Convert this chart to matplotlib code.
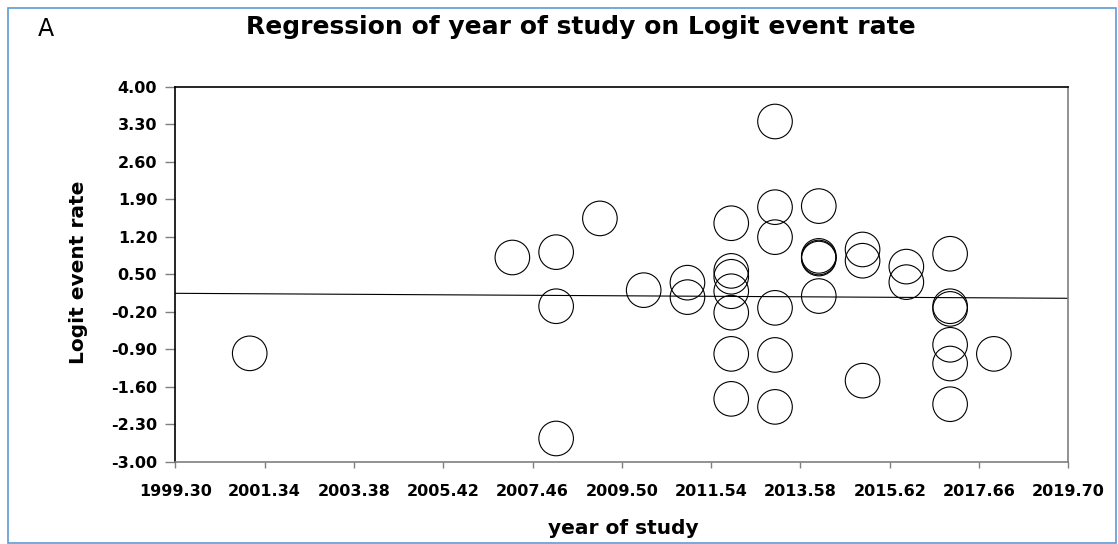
"""
plot.py

bubble plot of logit event rate by year of study, with the fitted regression line
"""

import matplotlib.pyplot as plt
from matplotlib.patches import Rectangle

# one entry per study
years = [2001,
         2007,
         2008, 2008, 2008,
         2009,
         2010,
         2011, 2011,
         2012, 2012, 2012, 2012, 2012, 2012, 2012,
         2013, 2013, 2013, 2013, 2013, 2013,
         2014, 2014, 2014, 2014, 2014,
         2015, 2015, 2015,
         2016, 2016,
         2017, 2017, 2017, 2017, 2017, 2017,
         2018]
logit_rate = [-0.98,
              0.81,
              0.91, -0.10, -2.57,
              1.54,
              0.20,
              0.34, 0.07,
              1.45, 0.56, 0.45, 0.18, -0.22, -0.99, -1.83,
              3.35, 1.75, 1.19, -0.13, -1.01, -1.98,
              1.77, 0.84, 0.81, 0.79, 0.09,
              0.96, 0.75, -1.49,
              0.64, 0.35,
              0.88, -0.10, -0.15, -0.82, -1.17, -1.93,
              -0.99]

# fitted line: logit = intercept + slope * year
reg_intercept = 9.258
reg_slope = -0.00456

x_ticks = [1999.30, 2001.34, 2003.38, 2005.42, 2007.46, 2009.50,
           2011.54, 2013.58, 2015.62, 2017.66, 2019.70]
y_ticks = [4.00, 3.30, 2.60, 1.90, 1.20, 0.50, -0.20, -0.90, -1.60, -2.30, -3.00]

plt.rcParams['font.family'] = ['DejaVu Sans']

W, H = 1118, 544
fig = plt.figure(figsize=(W / 100, H / 100), dpi=100)
ax = fig.add_axes([175.3 / W, 1 - 461.5 / H, (1068.3 - 175.3) / W, (461.5 - 86.7) / H])

ax.scatter(years, logit_rate, s=620, facecolors='none', edgecolors='black',
           linewidths=0.8, zorder=3)

x0, x1 = x_ticks[0], x_ticks[-1]
ax.plot([x0, x1], [reg_intercept + reg_slope * x0, reg_intercept + reg_slope * x1],
        color='black', linewidth=0.8, zorder=2)

ax.set_xlim(x0, x1)
ax.set_ylim(y_ticks[-1], y_ticks[0])
ax.set_xticks(x_ticks)
ax.set_xticklabels(['%.2f' % t for t in x_ticks])
ax.set_yticks(y_ticks)
ax.set_yticklabels(['%.2f' % t for t in y_ticks])

for lab in ax.get_xticklabels() + ax.get_yticklabels():
    lab.set_fontweight('bold')
    lab.set_fontsize(11.5)

ax.tick_params(axis='y', direction='out', length=7, width=1, color='#7f7f7f', pad=6)
ax.tick_params(axis='x', direction='out', length=4, width=1, color='#7f7f7f', pad=12)

ax.spines['left'].set_color('black')
ax.spines['top'].set_color('black')
ax.spines['right'].set_color('#7f7f7f')
ax.spines['bottom'].set_color('#7f7f7f')
for sp in ax.spines.values():
    sp.set_linewidth(1.2)

fig.text(78 / W, 1 - 272 / H, 'Logit event rate', rotation=90, ha='center',
         va='center', fontsize=14.5, fontweight='bold')
fig.text(623 / W, 1 - 528 / H, 'year of study', ha='center', va='center',
         fontsize=14.5, fontweight='bold')
fig.text(581 / W, 1 - 27 / H, 'Regression of year of study on Logit event rate',
         ha='center', va='center', fontsize=18, fontweight='bold')
fig.text(46 / W, 1 - 29 / H, 'A', ha='center', va='center', fontsize=17)

# frame round the whole figure
fig.patches.append(Rectangle((7.5 / W, 1.5 / H), (1116 - 7.5) / W, (536.5 - 1.5) / H,
                             transform=fig.transFigure, fill=False,
                             edgecolor='#5b9bd5', linewidth=1.2))

fig.savefig('out.png', dpi=100)
